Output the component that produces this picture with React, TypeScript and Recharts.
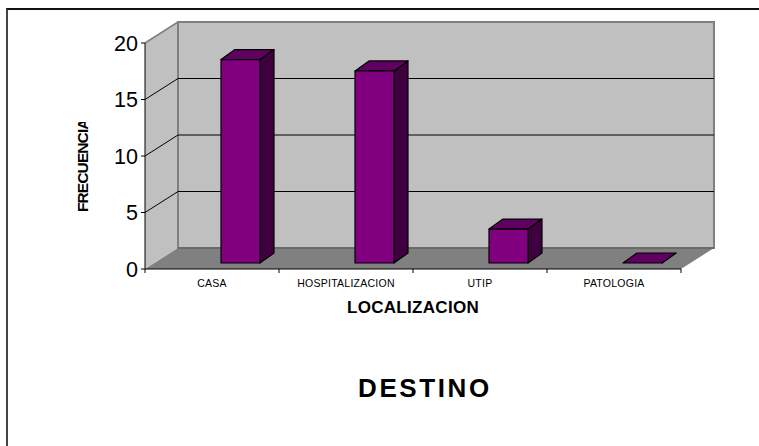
import { BarChart, Bar, XAxis, YAxis, ReferenceArea, ReferenceLine } from 'recharts';

const categories = ['CASA', 'HOSPITALIZACION', 'UTIP', 'PATOLOGIA'];
const frecuencia = [18, 17, 3, 0];
const yTicks = [0, 5, 10, 15, 20];
const gridValues = [5, 10, 15];

const data = categories.map((name, i) => ({ name, frecuencia: frecuencia[i] }));

const FONT = '"Liberation Sans", Arial, sans-serif';
// depth of the fake 3d box
const DX = 33;
const DY = 21;

function Box3D({ x, y, width, height }: any) {
  const left = x + 28;
  const top = y - 6;
  const right = left + width;
  const bottom = top + height;
  const dx = 14;
  const dy = 10;
  return (
    <g stroke="#000" strokeWidth={1.2} strokeLinejoin="round">
      <polygon
        points={`${right},${top} ${right + dx},${top - dy} ${right + dx},${bottom - dy} ${right},${bottom}`}
        fill="#400040"
      />
      <polygon
        points={`${left},${top} ${left + dx},${top - dy} ${right + dx},${top - dy} ${right},${top}`}
        fill="#600060"
      />
      <rect x={left} y={top} width={width} height={height} fill="#800080" />
    </g>
  );
}

function Walls({ x, y, width, height }: any) {
  const bottom = y + height;
  const right = x + width;
  return (
    <g>
      <polygon
        points={`${x},${y} ${x + DX},${y - DY} ${x + DX},${bottom - DY} ${x},${bottom}`}
        fill="#c0c0c0"
      />
      <rect x={x + DX} y={y - DY} width={width} height={height} fill="#c0c0c0" stroke="#808080" strokeWidth={2} />
      <line x1={x} y1={y} x2={x + DX} y2={y - DY} stroke="#808080" strokeWidth={1.5} />
      <polygon
        points={`${x},${bottom} ${x + DX},${bottom - DY} ${right + DX},${bottom - DY} ${right},${bottom}`}
        fill="#808080"
      />
      <line x1={x + DX} y1={bottom - DY} x2={right + DX} y2={bottom - DY} stroke="#555" />
      {[0, 1, 2, 3, 4].map((i) => {
        const tx = x + (i * width) / categories.length;
        return <line key={i} x1={tx} y1={bottom} x2={tx} y2={bottom + 4} stroke="#000" />;
      })}
    </g>
  );
}

function GridLine({ x1, y1, x2 }: any) {
  return (
    <polyline
      points={`${x1},${y1} ${x1 + DX},${y1 - DY} ${x2 + DX},${y1 - DY}`}
      fill="none"
      stroke="#000"
      strokeWidth={1}
    />
  );
}

export default function App() {
  return (
    <div style={{ position: 'absolute', left: 0, top: 0, width: 759, height: 446, overflow: 'hidden', background: '#fff' }}>
      <div
        style={{
          position: 'absolute',
          left: 6,
          top: 8,
          width: 760,
          height: 450,
          borderLeft: '2px solid #444',
          borderTop: '2px solid #111',
        }}
      />
      <div style={{ position: 'absolute', left: 0, top: 0 }}>
        <BarChart
          width={759}
          height={446}
          data={data}
          margin={{ top: 43, right: 78, bottom: 147, left: 85 }}
        >
          <defs>
            <clipPath id="ylabel-clip">
              <rect x={70} y={122} width={30} height={100} />
            </clipPath>
          </defs>
          <ReferenceArea y1={0} y2={20} shape={<Walls />} zIndex={10} isFront={false} />
          {gridValues.map((v) => (
            <ReferenceLine key={v} y={v} shape={<GridLine />} zIndex={20} isFront={false} />
          ))}
          <XAxis
            dataKey="name"
            height={30}
            tickLine={false}
            axisLine={{ stroke: '#000' }}
            interval={0}
            tick={{ fontSize: 10.5, fill: '#000', fontFamily: FONT, letterSpacing: 0.25 }}
            tickMargin={5}
          />
          <YAxis
            width={60}
            domain={[0, 20]}
            ticks={yTicks}
            interval={0}
            tickSize={4}
            tickMargin={3}
            axisLine={{ stroke: '#000' }}
            tickLine={{ stroke: '#000' }}
            tick={{ fontSize: 21.5, fill: '#000', fontFamily: FONT }}
          />
          <Bar dataKey="frecuencia" barSize={39} shape={<Box3D />} isAnimationActive={false} />
          <g clipPath="url(#ylabel-clip)">
            <text
              x={88}
              y={212}
              transform="rotate(-90 88 212)"
              fontSize={15.5}
              fontWeight={700}
              letterSpacing={-0.9}
              fontFamily={FONT}
              fill="#000"
            >
              FRECUENCIA
            </text>
          </g>
          <text x={347} y={313} fontSize={17} fontWeight={700} letterSpacing={0.3} fontFamily={FONT} fill="#000">
            LOCALIZACION
          </text>
          <text x={358} y={397} fontSize={26} fontWeight={700} letterSpacing={2.6} fontFamily={FONT} fill="#000">
            DESTINO
          </text>
        </BarChart>
      </div>
    </div>
  );
}
